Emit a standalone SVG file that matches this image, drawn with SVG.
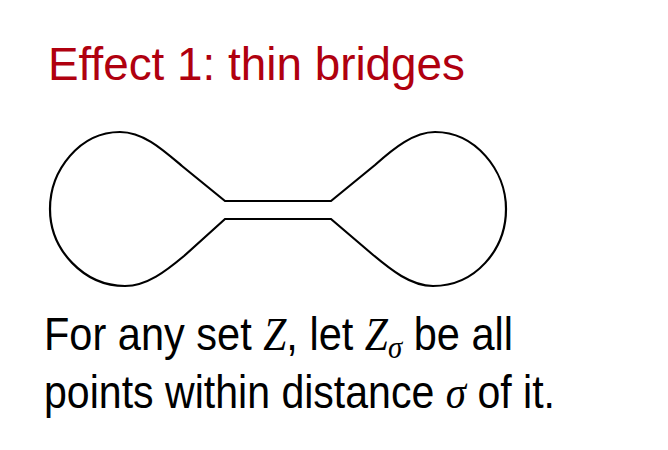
<svg xmlns="http://www.w3.org/2000/svg" width="668" height="450" viewBox="0 0 668 450">
<style>
.t{font-family:"Liberation Sans",Arial,sans-serif;}
.title{font-size:46px;fill:#b0000f;}
.body{font-size:46px;fill:#000;}
.m{font-family:"Liberation Serif","Times New Roman",serif;font-style:italic;}
.shape{fill:none;stroke:#000;stroke-width:2.2;stroke-linejoin:miter;}
</style>
<rect width="668" height="450" fill="#fff"/>
<g id="title">
<text class="t title" x="48" y="80" textLength="417" lengthAdjust="spacingAndGlyphs">Effect 1: thin bridges</text>
</g>
<g id="dumbbell">
<path class="shape" d="M225,201 L182,166 C162,149 143,132 120,132 C80,132 50,170 50,209 C50,250 84,286 125,286 C147,286 166,271 184,256 L225,219 L331,219 L372,254 C391,270 411,286 433,286 C475,286 506,250 506,209 C506,170 475,132 435,132 C414,132 394,148 375,165 L331,201 Z"/>
</g>
<g id="caption">
<text class="t body" x="44" y="350" textLength="469" lengthAdjust="spacingAndGlyphs">For any set <tspan class="m">Z</tspan>, let <tspan class="m">Z</tspan><tspan class="m" dy="8" font-size="32">σ</tspan><tspan dy="-8"> be all</tspan></text>
<text class="t body" x="44" y="408" textLength="511" lengthAdjust="spacingAndGlyphs">points within distance <tspan class="m">σ</tspan> of it.</text>
</g>
</svg>
